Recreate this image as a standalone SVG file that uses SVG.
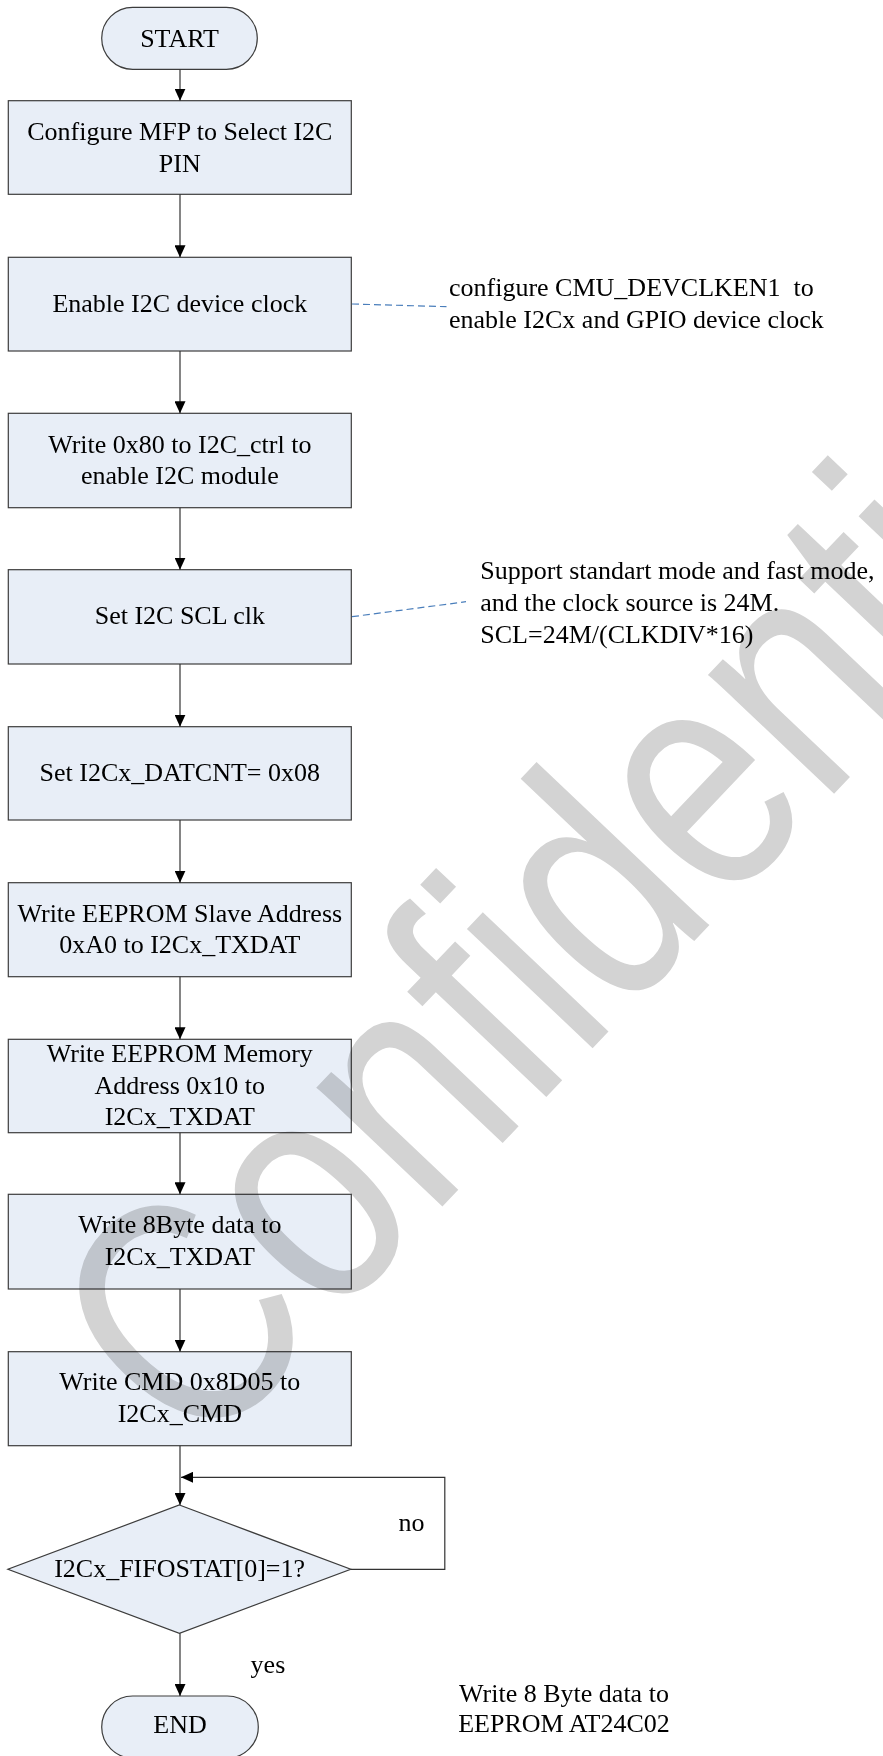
<svg xmlns="http://www.w3.org/2000/svg" width="883" height="1756" viewBox="0 0 883 1756">
<style>
.box{fill:#e8eef7;stroke:#3c3c3c;stroke-width:1.2}
.t{font-family:"Liberation Serif","Times New Roman",serif;font-size:26px;fill:#000}
.c{text-anchor:middle}
.ln{fill:none;stroke:#333;stroke-width:1.2}
.dash{fill:none;stroke:#4a7ebb;stroke-width:1.2;stroke-dasharray:7,4}
.wm{font-family:"Liberation Sans",Arial,sans-serif;font-size:328px;fill:#d3d3d3;mix-blend-mode:multiply}
</style>
<defs>
<marker id="arr" markerUnits="userSpaceOnUse" markerWidth="12" markerHeight="11" refX="12" refY="5.5" orient="auto">
<path d="M0,0 L12,5.5 L0,11 z" fill="#000"/>
</marker>
</defs>
<rect width="883" height="1756" fill="#fff"/>
<g id="start">
<rect class="box" x="101.7" y="7.3" width="155.6" height="62" rx="31"/>
<text class="t c" x="179.5" y="47">START</text>
</g>
<g id="n1">
<rect class="box" x="8.3" y="100.7" width="343" height="93.6"/>
<text class="t c" x="179.8" y="140">Configure MFP to Select I2C</text>
<text class="t c" x="179.8" y="171.7">PIN</text>
</g>
<g id="n2">
<rect class="box" x="8.3" y="257.3" width="343" height="93.7"/>
<text class="t c" x="179.8" y="312">Enable I2C device clock</text>
</g>
<g id="n3">
<rect class="box" x="8.3" y="413.3" width="343" height="94.4"/>
<text class="t c" x="179.8" y="452.7">Write 0x80 to I2C_ctrl to</text>
<text class="t c" x="179.8" y="484.3">enable I2C module</text>
</g>
<g id="n4">
<rect class="box" x="8.3" y="569.7" width="343" height="94.3"/>
<text class="t c" x="179.8" y="623.5">Set I2C SCL clk</text>
</g>
<g id="n5">
<rect class="box" x="8.3" y="726.7" width="343" height="93.3"/>
<text class="t c" x="179.8" y="780.7">Set I2Cx_DATCNT= 0x08</text>
</g>
<g id="n6">
<rect class="box" x="8.3" y="882.7" width="343" height="94"/>
<text class="t c" x="179.8" y="921.7">Write EEPROM Slave Address</text>
<text class="t c" x="179.8" y="953.3">0xA0 to I2Cx_TXDAT</text>
</g>
<g id="n7">
<rect class="box" x="8.3" y="1039.3" width="343" height="93.4"/>
<text class="t c" x="179.8" y="1061.7">Write EEPROM Memory</text>
<text class="t c" x="179.8" y="1093.5">Address 0x10 to</text>
<text class="t c" x="179.8" y="1125.3">I2Cx_TXDAT</text>
</g>
<g id="n8">
<rect class="box" x="8.3" y="1194.3" width="343" height="94.7"/>
<text class="t c" x="179.8" y="1233.3">Write 8Byte data to</text>
<text class="t c" x="179.8" y="1265">I2Cx_TXDAT</text>
</g>
<g id="n9">
<rect class="box" x="8.3" y="1351.7" width="343" height="94"/>
<text class="t c" x="179.8" y="1390">Write CMD 0x8D05 to</text>
<text class="t c" x="179.8" y="1421.7">I2Cx_CMD</text>
</g>
<g id="dec">
<polygon class="box" points="179.4,1505 350.8,1569.3 179.4,1633.3 7.9,1569.3"/>
<text class="t c" x="179.6" y="1576.7">I2Cx_FIFOSTAT[0]=1?</text>
</g>
<g id="end">
<rect class="box" x="101.7" y="1696" width="156.6" height="62" rx="31"/>
<text class="t c" x="180" y="1733">END</text>
</g>
<g id="connectors">
<line class="ln" x1="180" y1="69.3" x2="180" y2="100.7" marker-end="url(#arr)"/>
<line class="ln" x1="180" y1="194.3" x2="180" y2="257.3" marker-end="url(#arr)"/>
<line class="ln" x1="180" y1="351" x2="180" y2="413.3" marker-end="url(#arr)"/>
<line class="ln" x1="180" y1="507.7" x2="180" y2="569.7" marker-end="url(#arr)"/>
<line class="ln" x1="180" y1="664" x2="180" y2="726.7" marker-end="url(#arr)"/>
<line class="ln" x1="180" y1="820" x2="180" y2="882.7" marker-end="url(#arr)"/>
<line class="ln" x1="180" y1="976.7" x2="180" y2="1039.3" marker-end="url(#arr)"/>
<line class="ln" x1="180" y1="1132.7" x2="180" y2="1194.3" marker-end="url(#arr)"/>
<line class="ln" x1="180" y1="1289" x2="180" y2="1351.7" marker-end="url(#arr)"/>
<line class="ln" x1="180" y1="1445.7" x2="180" y2="1505" marker-end="url(#arr)"/>
<line class="ln" x1="180" y1="1633.3" x2="180" y2="1696" marker-end="url(#arr)"/>
<polyline class="ln" points="350.8,1569.3 444.8,1569.3 444.8,1477.3 181,1477.3" marker-end="url(#arr)"/>
<line class="dash" x1="352" y1="304" x2="446.5" y2="306.7"/>
<line class="dash" x1="352" y1="616.7" x2="466" y2="601.7"/>
</g>
<g id="labels">
<text class="t" x="398.6" y="1531">no</text>
<text class="t" x="250.6" y="1673">yes</text>
</g>
<g id="notes">
<text class="t" x="449" y="295.5" xml:space="preserve">configure CMU_DEVCLKEN1  to</text>
<text class="t" x="449" y="327.5">enable I2Cx and GPIO device clock</text>
<text class="t" x="480.3" y="579">Support standart mode and fast mode,</text>
<text class="t" x="480.3" y="611">and the clock source is 24M.</text>
<text class="t" x="480.3" y="642.5">SCL=24M/(CLKDIV*16)</text>
<text class="t c" x="564" y="1701.7">Write 8 Byte data to</text>
<text class="t c" x="564" y="1732.3">EEPROM AT24C02</text>
</g>
<text class="wm" transform="translate(199,1463) rotate(-46.5) scale(0.8,1)">Confidential</text>
</svg>
